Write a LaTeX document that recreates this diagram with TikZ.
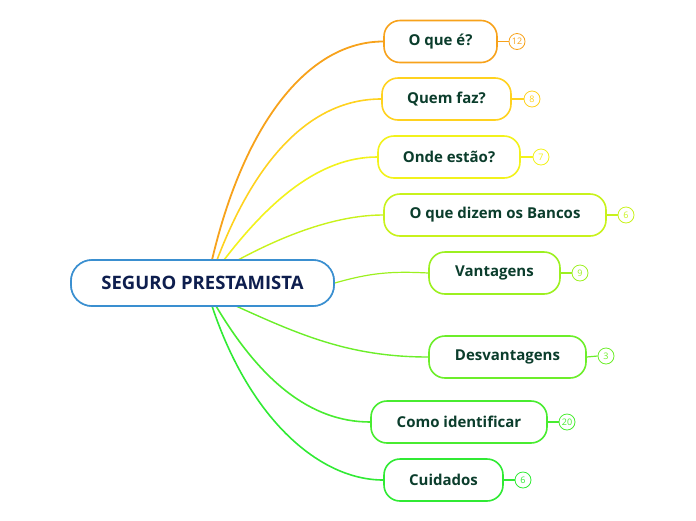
\documentclass[tikz,border=0pt]{standalone}
\usepackage{fontspec}
\setmainfont{Open Sans}
\definecolor{c1}{HTML}{F7A21B}
\definecolor{c2}{HTML}{FFD21F}
\definecolor{c3}{HTML}{F2F21C}
\definecolor{c4}{HTML}{C8F21C}
\definecolor{c5}{HTML}{9CF020}
\definecolor{c6}{HTML}{6CEE2A}
\definecolor{c7}{HTML}{48EC30}
\definecolor{c8}{HTML}{30EA34}
\definecolor{txt}{HTML}{0B3D2C}
\definecolor{ctxt}{HTML}{0E1E4E}
\definecolor{cblue}{HTML}{3A8FD0}
\begin{document}
\begin{tikzpicture}[x=1pt,y=-1pt,
  topic/.style={draw=#1, line width=1.6pt, fill=white, rounded corners=16pt,
    minimum height=42pt, inner xsep=0pt, text=txt,
    font=\fontsize{15}{17}\selectfont\bfseries},
  cnt/.style={draw=#1, line width=0.8pt, circle, minimum size=16pt, inner sep=0pt,
    text=#1, font=\fontsize{9}{10}\selectfont},
  rootbox/.style={draw=cblue, line width=1.6pt, fill=white, rounded corners=21pt,
    minimum width=263pt, minimum height=46pt, text=ctxt,
    font=\fontsize{18.5}{21}\selectfont\bfseries},
  link/.style={draw=#1, line width=1.6pt},
  short/.style={draw=#1, line width=1.2pt}]
\useasboundingbox (0,0) rectangle (696,520);

\node[rootbox] (root) at (202.5,283) {SEGURO PRESTAMISTA};

\node[topic=c1, minimum width=113pt] (n1) at (440.5,41.5) {O que é?};
\node[topic=c2, minimum width=129pt] (n2) at (446.5,99) {Quem faz?};
\node[topic=c3, minimum width=142pt] (n3) at (449,157) {Onde estão?};
\node[topic=c4, minimum width=222pt] (n4) at (495,215) {O que dizem os Bancos};
\node[topic=c5, minimum width=131pt] (n5) at (494.5,273) {Vantagens};
\node[topic=c6, minimum width=157pt] (n6) at (507.5,357) {Desvantagens};
\node[topic=c7, minimum width=176pt] (n7) at (459,422) {Como identificar};
\node[topic=c8, minimum width=119pt] (n8) at (443.5,480) {Cuidados};

\node[cnt=c1] (k1) at (517,41.5) {12};
\node[cnt=c2] (k2) at (532,99) {8};
\node[cnt=c3] (k3) at (541,157) {7};
\node[cnt=c4] (k4) at (626,215) {6};
\node[cnt=c5] (k5) at (580,273) {9};
\node[cnt=c6] (k6) at (606,356) {3};
\node[cnt=c7] (k7) at (567,422) {20};
\node[cnt=c8] (k8) at (523,480) {6};

\foreach \i in {1,...,8} {\draw[short=c\i] (n\i.east) -- (k\i.west);}

\coordinate (s1) at (212,260);
\coordinate (s2) at (217,260);
\coordinate (s3) at (224,260);
\coordinate (s4) at (238,260);
\coordinate (s6) at (236,306);
\coordinate (s7) at (216,306);
\coordinate (s8) at (212,306);

\draw[link=c4, line width=1.4pt] (s4) .. controls (290,232) and (340,215) .. (n4.west);
\draw[link=c3] (s3) .. controls (270,200) and (320,157) .. (n3.west);
\draw[link=c2] (s2) .. controls (255,160) and (310,99) .. (n2.west);
\draw[link=c1, line width=1.8pt] (s1) .. controls (245,120) and (310,41.5) .. (n1.west);
\draw[link=c5, line width=1.2pt] (root.east) .. controls (370,273) and (390,271) .. (n5.west);
\draw[link=c6, line width=1.4pt] (s6) .. controls (300,335) and (350,357) .. (n6.west);
\draw[link=c7] (s7) .. controls (260,380) and (310,422) .. (n7.west);
\draw[link=c8] (s8) .. controls (250,420) and (320,480) .. (n8.west);

\node[rootbox] at (root) {SEGURO PRESTAMISTA};
\end{tikzpicture}
\end{document}
